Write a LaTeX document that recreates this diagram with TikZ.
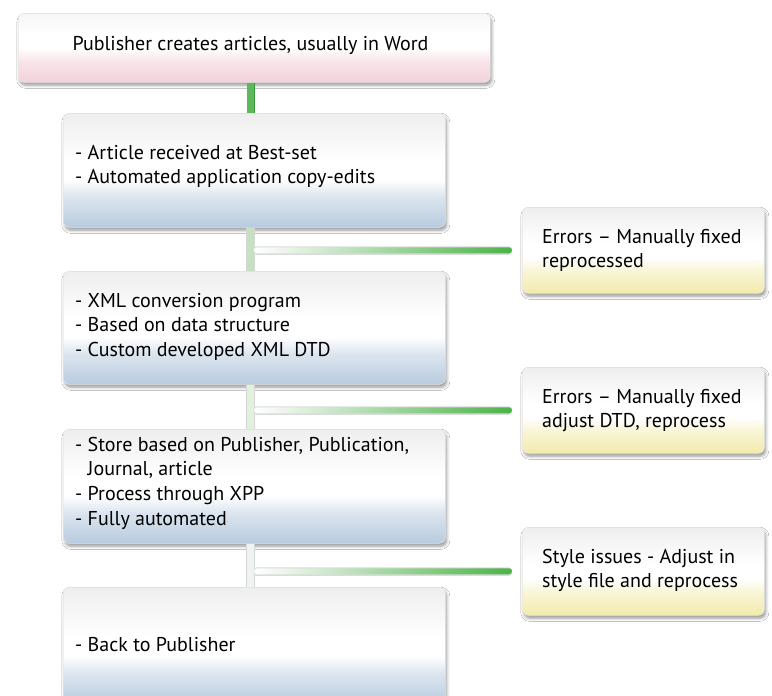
\documentclass[tikz,border=0pt]{standalone}
\usepackage{fontspec}
\setmainfont{PT Sans}
\usetikzlibrary{calc,shadows.blur}
\definecolor{bBot}{RGB}{184,203,223}
\definecolor{bMid}{RGB}{218,228,238}
\definecolor{gTop}{RGB}{238,238,238}
\definecolor{pTop}{RGB}{246,246,246}
\definecolor{pBot}{RGB}{243,210,218}
\definecolor{pMid}{RGB}{248,228,233}
\definecolor{yBot}{RGB}{242,234,172}
\definecolor{yMid}{RGB}{249,245,214}
\definecolor{cg}{RGB}{76,178,72}
\definecolor{cgDark}{RGB}{60,150,60}
\definecolor{v1}{RGB}{92,184,88}
\definecolor{v2}{RGB}{196,226,190}
\definecolor{v3}{RGB}{226,240,222}
\definecolor{v4}{RGB}{240,244,240}
\pgfdeclareverticalshading{blueshade}{100bp}{color(0bp)=(bBot); color(25bp)=(bBot); color(38bp)=(bMid); color(46bp)=(white); color(54bp)=(white); color(75bp)=(gTop); color(100bp)=(gTop)}
\pgfdeclareverticalshading{pinkshade}{100bp}{color(0bp)=(pBot); color(25bp)=(pBot); color(40bp)=(pMid); color(50bp)=(white); color(60bp)=(white); color(75bp)=(pTop); color(100bp)=(pTop)}
\pgfdeclareverticalshading{yellowshade}{100bp}{color(0bp)=(yBot); color(25bp)=(yBot); color(38bp)=(yMid); color(46bp)=(white); color(54bp)=(white); color(75bp)=(gTop); color(100bp)=(gTop)}
\newcommand{\boxtext}[2]{\parbox[t]{#1}{\raggedright\fontsize{20}{24.7}\selectfont #2}}
\tikzset{
  basebox/.style={rounded corners=6pt, draw=black!10, line width=0.6pt, shade,
    blur shadow={shadow xshift=1.5pt, shadow yshift=-3pt, shadow blur radius=3pt, shadow opacity=40},
    anchor=north west, inner sep=0pt},
  leftbox/.style={basebox, shading=blueshade, minimum width=382pt},
  rightbox/.style={basebox, shading=yellowshade, minimum width=242pt, minimum height=86pt},
  topbox/.style={basebox, shading=pinkshade, minimum width=472pt, minimum height=69pt},
  txt/.style={anchor=base west, inner sep=0pt},
  vshadow/.style={line width=8.5pt, draw=black!16},
  vline/.style={line width=6.5pt},
  hshadow/.style={fill=black!14, rounded corners=3pt},
  hline/.style={shade, left color=white, middle color=cg!30!white, right color=cg, rounded corners=3pt}
}
\begin{document}
\begin{tikzpicture}[x=1pt,y=-1pt]
\useasboundingbox (0,0) rectangle (772,696);
\fill[white] (0,0) rectangle (772,696);
\clip (0,0) rectangle (772,696);
\coordinate (sp) at (250.5,0);

% boxes
\node[topbox] (top) at (18,13) {};
\node[leftbox, minimum height=114pt] (b2) at (63,113) {};
\node[leftbox, minimum height=113pt] (b3) at (63,271) {};
\node[leftbox, minimum height=114pt] (b4) at (63,429) {};
\node[leftbox, minimum height=118pt] (b5) at (63,587) {};
\node[rightbox] (r1) at (522,207) {};
\node[rightbox] (r2) at (522,367) {};
\node[rightbox, minimum height=88pt] (r3) at (522,527) {};

% vertical connectors
\draw[vline, draw=cgDark, line width=8pt] (top.south -| sp) -- (b2.north -| sp);
\draw[vline, draw=v1] (top.south -| sp) -- (b2.north -| sp);
\draw[vshadow] (b2.south -| sp) -- (b3.north -| sp);
\draw[vline, draw=v2] (b2.south -| sp) -- (b3.north -| sp);
\draw[vshadow] (b3.south -| sp) -- (b4.north -| sp);
\draw[vline, draw=v3] (b3.south -| sp) -- (b4.north -| sp);
\draw[vshadow] (b4.south -| sp) -- (b5.north -| sp);
\draw[vline, draw=v4] (b4.south -| sp) -- (b5.north -| sp);

% horizontal connectors
\foreach \r in {r1,r2,r3}{
  \fill[hshadow] ($(sp |- \r.west)+(3,-4)$) rectangle ($(\r.west)+(-10,4.5)$);
  \path[hline] ($(sp |- \r.west)+(3.5,-3)$) rectangle ($(\r.west)+(-10,3)$);
}

% texts
\node[anchor=base, inner sep=0pt, font=\fontsize{20}{24.7}\selectfont] (ttop) at (250.5,50) {Publisher creates articles, usually in Word};
\node[txt] (t2) at (75,159) {\boxtext{360pt}{- Article received at Best-set\\- Automated application copy-edits}};
\node[txt] (t3) at (75,307) {\boxtext{360pt}{- XML conversion program\\- Based on data structure\\- Custom developed XML DTD}};
\node[txt] (t4) at (75,451) {\boxtext{360pt}{- Store based on Publisher, Publication,\\\hphantom{-}\ Journal, article\\- Process through XPP\\- Fully automated}};
\node[txt] (t5) at (75,651) {\boxtext{360pt}{- Back to Publisher}};
\node[txt] (tr1) at (542,243) {\boxtext{220pt}{Errors – Manually fixed\\reprocessed}};
\node[txt] (tr2) at (542,403) {\boxtext{220pt}{Errors – Manually fixed\\adjust DTD, reprocess}};
\node[txt] (tr3) at (542,563) {\boxtext{220pt}{Style issues - Adjust in\\style file and reprocess}};
\end{tikzpicture}
\end{document}
